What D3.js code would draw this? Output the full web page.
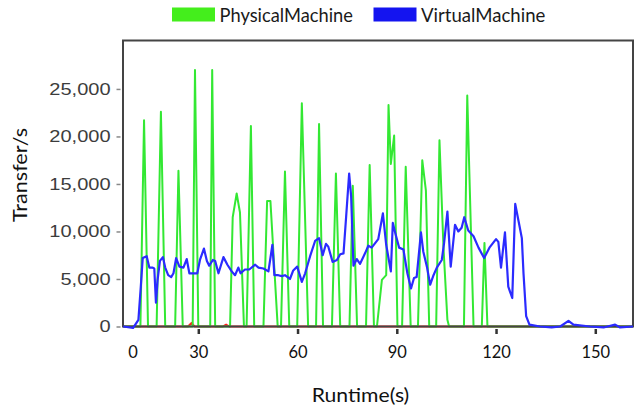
<!DOCTYPE html>
<html><head><meta charset="utf-8">
<script src="https://cdn.jsdelivr.net/npm/d3@7"></script>
<style>body{margin:0;background:#fff;} svg{display:block;}</style>
</head><body><svg id="c" width="637" height="409"></svg>
<script>
const seriesNames = ["PhysicalMachine", "VirtualMachine"];
const xTickValues = [30, 60, 90, 120, 150];
const xFirstLabel = "0";
const yTickValues = [0, 5000, 10000, 15000, 20000, 25000];

const greenTime = [7.3, 12.5, 13.6, 14.8, 17.4, 18.7, 20.0, 23.0, 24.0, 25.3, 28.3, 29.0, 30.0, 33.6, 34.2, 35.1, 39.6, 40.4, 41.6, 42.6, 43.8, 44.6, 45.9, 46.9, 49.7, 50.8, 51.8, 54.0, 55.0, 56.2, 57.5, 59.9, 61.3, 63.2, 65.6, 66.5, 67.7, 70.4, 71.6, 72.9, 75.7, 76.7, 78.0, 80.7, 81.8, 83.1, 84.0, 85.5, 86.8, 87.5, 88.2, 89.2, 90.2, 91.6, 92.7, 94.2, 96.4, 97.7, 98.8, 99.8, 101.9, 102.9, 104.1, 105.3, 105.8, 110.3, 111.3, 113.2, 115.7, 116.5, 117.4, 161.4];
const greenValue = [0, 0, 21700, 0, 0, 22600, 0, 0, 16400, 0, 0, 27000, 0, 0, 27000, 0, 0, 11500, 14000, 12000, 0, 0, 21100, 0, 0, 13200, 13200, 0, 0, 16300, 0, 0, 23500, 0, 0, 21300, 0, 0, 16100, 0, 0, 14800, 0, 0, 17000, 0, 0, 4900, 5400, 23300, 17100, 20100, 0, 0, 16800, 0, 0, 17500, 14300, 0, 0, 19600, 8400, 700, 0, 0, 24300, 0, 0, 8800, 0, 0];

const blueTime = [7.3, 10.3, 11.9, 12.6, 13.2, 14.4, 15.2, 16.1, 16.7, 17.2, 17.7, 18.4, 19.3, 20.0, 20.9, 21.8, 22.5, 23.3, 24.3, 25.5, 26.5, 27.3, 28.5, 29.7, 30.5, 31.7, 32.6, 33.3, 34.4, 35.1, 36.1, 37.6, 38.8, 40.1, 41.1, 42.1, 42.8, 44.1, 45.4, 47.2, 48.2, 49.7, 51.2, 52.4, 53.0, 54.2, 55.2, 56.2, 57.7, 58.7, 59.9, 61.3, 62.3, 63.8, 65.3, 66.5, 67.6, 68.6, 69.3, 70.6, 71.9, 72.9, 73.9, 74.7, 75.6, 76.2, 76.9, 77.9, 78.9, 80.4, 81.4, 82.4, 84.4, 85.8, 86.8, 88.2, 88.8, 89.5, 90.7, 92.0, 93.2, 94.3, 95.2, 96.0, 97.3, 98.0, 99.1, 100.1, 101.1, 102.1, 103.6, 104.3, 105.3, 106.3, 107.6, 108.6, 109.6, 110.4, 111.6, 113.2, 114.7, 116.4, 118.0, 120.0, 120.7, 121.5, 122.7, 123.7, 124.9, 125.8, 126.8, 127.8, 128.3, 129.1, 130.1, 133.3, 136.8, 139.4, 141.9, 143.4, 148.4, 152.5, 156.0, 157.5, 161.4];
const blueValue = [0, -150, 700, 4100, 7200, 7400, 6200, 6200, 6100, 2500, 4900, 6900, 7300, 6200, 5400, 5200, 5600, 7200, 6300, 6200, 7100, 5600, 5600, 5600, 7000, 8200, 6900, 6400, 7000, 6900, 5600, 7300, 6500, 5800, 5400, 6200, 5600, 6000, 6000, 6500, 6200, 6100, 5800, 8600, 5400, 5400, 5300, 5400, 5000, 5900, 6300, 4700, 5600, 7400, 9000, 9300, 7500, 8700, 8400, 6800, 7000, 7600, 7700, 11600, 16100, 13700, 6400, 7100, 6600, 7700, 8500, 8300, 9200, 11900, 8600, 5800, 10900, 9900, 8300, 8100, 5600, 4000, 5100, 5200, 9900, 7900, 6300, 4400, 5400, 6200, 7000, 8800, 12100, 6300, 10700, 10000, 10400, 11500, 10100, 9500, 8300, 7200, 8300, 9200, 8900, 6200, 9900, 4200, 3000, 12900, 11100, 9300, 5600, 1100, 200, 0, -100, 0, 600, 200, 0, -100, 200, -100, 0];

const redTime = [7.3, 26.9, 27.9, 28.9, 37.4, 38.4, 39.4, 161.4];
const redValue = [0, 0, 350, 0, 0, 200, 0, 0];

const svg = d3.select("#c");
const x = d3.scaleLinear().domain([7.24, 161.4]).range([123, 633]);
const y = d3.scaleLinear().domain([0, 30150]).range([326.5, 40]);
const line = d3.line().x(d => x(d[0])).y(d => y(d[1]));

const FONT = "Lato, 'Open Sans', sans-serif";

// red (mostly hidden)
svg.append("path").datum(d3.zip(redTime, redValue)).attr("d", line)
  .attr("fill", "none").attr("stroke", "#ff2020").attr("stroke-width", 2);
// green
svg.append("path").datum(d3.zip(greenTime, greenValue)).attr("d", line)
  .attr("fill", "none").attr("stroke", "#33e833").attr("stroke-width", 2)
  .attr("stroke-linejoin", "round");

// frame
svg.append("rect").attr("x", 123).attr("y", 40.5).attr("width", 510).attr("height", 286)
  .attr("fill", "none").attr("stroke", "#444").attr("stroke-width", 2);

// blue
svg.append("path").datum(d3.zip(blueTime, blueValue)).attr("d", line)
  .attr("fill", "none").attr("stroke", "#2b2bff").attr("stroke-width", 2.2)
  .attr("stroke-linejoin", "round");

// y axis
const ya = svg.append("g").attr("transform", "translate(120.5,0)")
  .call(d3.axisLeft(y).tickValues(yTickValues).tickFormat(d3.format(",")).tickSize(4).tickPadding(6));
ya.select(".domain").remove();
ya.selectAll(".tick line").attr("stroke", "#888").attr("stroke-width", 1.5);
ya.selectAll(".tick text").attr("font-family", "'Liberation Sans', Arial, sans-serif")
  .attr("font-size", 16).attr("fill", "#3c3c3c")
  .each(function() {
    const w = this.getComputedTextLength();
    d3.select(this).attr("textLength", w * 1.25).attr("lengthAdjust", "spacingAndGlyphs");
  });

// x axis
const xa = svg.append("g").attr("transform", "translate(0,329)")
  .call(d3.axisBottom(x).tickValues(xTickValues).tickSize(5).tickPadding(12.6));
xa.select(".domain").remove();
xa.selectAll(".tick line").attr("stroke", "#333").attr("stroke-width", 2.5);
xa.selectAll(".tick text").attr("font-family", FONT).attr("font-size", 16.5).attr("fill", "#111");
svg.append("text").attr("x", 133).attr("y", 358.3).attr("text-anchor", "middle")
  .attr("font-family", FONT).attr("font-size", 16.5).attr("fill", "#111").text(xFirstLabel);

// titles
svg.append("text").attr("transform", "translate(27,175) rotate(-90)").attr("text-anchor", "middle")
  .attr("font-family", FONT).attr("font-size", 20).attr("fill", "#111")
  .attr("textLength", 94).attr("lengthAdjust", "spacingAndGlyphs").text("Transfer/s");
svg.append("text").attr("x", 360.5).attr("y", 401.5).attr("text-anchor", "middle")
  .attr("font-family", FONT).attr("font-size", 20).attr("fill", "#111")
  .attr("textLength", 97.6).attr("lengthAdjust", "spacingAndGlyphs").text("Runtime(s)");

// legend
const legendColors = ["#44ee1c", "#1414f0"];
const legendX = [172, 373.5];
const legendW = [133.4, 124.3];
seriesNames.forEach((n, i) => {
  svg.append("rect").attr("x", legendX[i]).attr("y", 7.5).attr("width", 43).attr("height", 14)
    .attr("fill", legendColors[i]);
  svg.append("text").attr("x", legendX[i] + 47.5).attr("y", 21.5)
    .attr("font-family", FONT).attr("font-size", 19).attr("fill", "#1a1a1a")
    .attr("textLength", legendW[i]).attr("lengthAdjust", "spacingAndGlyphs").text(n);
});
</script></body></html>
